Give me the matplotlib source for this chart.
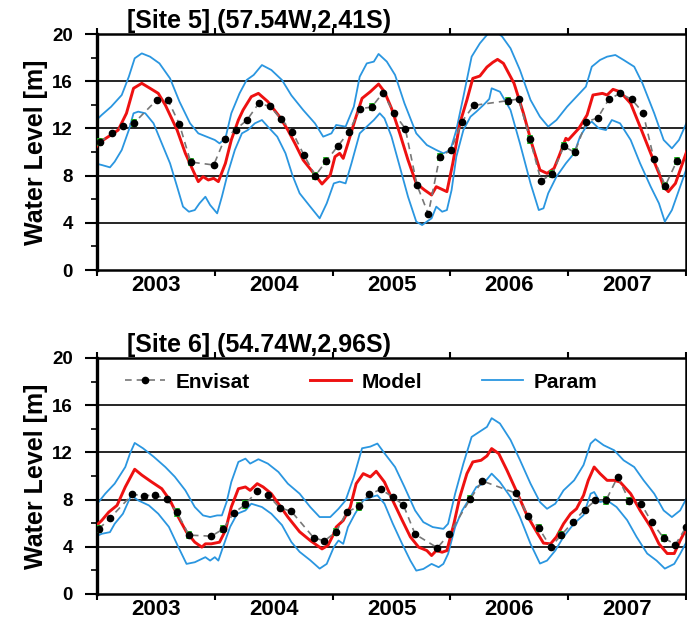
import numpy as np
from matplotlib import pyplot as plt

plt.rcParams['font.family'] = ['Liberation Sans', 'DejaVu Sans']
plt.rcParams['font.weight'] = 'bold'

# ---------------- Site 5 ----------------
s5_title = '[Site 5] (57.54W,2.41S)'

s5_env_t = [2003.025, 2003.125, 2003.223, 2003.317, 2003.509, 2003.603, 2003.699, 2003.795,
            2003.991, 2004.084, 2004.177, 2004.273, 2004.373, 2004.469, 2004.565, 2004.658,
            2004.755, 2004.853, 2004.947, 2005.043, 2005.139, 2005.233, 2005.332, 2005.428,
            2005.521, 2005.617, 2005.716, 2005.812, 2005.909, 2006.003, 2006.098, 2006.198,
            2006.486, 2006.580, 2006.676, 2006.769, 2006.865, 2006.962, 2007.055, 2007.154,
            2007.250, 2007.344, 2007.440, 2007.539, 2007.635, 2007.728, 2007.824, 2007.921]
s5_env_v = [10.82, 11.58, 12.18, 12.48, 14.43, 14.38, 12.37, 9.15,
            8.90, 11.13, 11.90, 12.71, 14.12, 13.87, 12.77, 11.72,
            9.77, 7.99, 9.26, 10.48, 11.72, 13.67, 13.81, 15.03,
            13.28, 11.98, 7.20, 4.75, 9.60, 10.14, 12.57, 13.95,
            14.35, 14.49, 11.07, 7.57, 8.14, 10.48, 9.97, 12.57,
            12.88, 14.46, 14.97, 14.46, 13.33, 9.38, 7.15, 9.21]
s5_err_idx = [0, 3, 7, 17, 18, 22, 28, 32, 34, 36, 37, 38, 46, 47]

s5_model_t = [2002.98, 2003.01, 2003.096, 2003.18, 2003.25, 2003.31, 2003.38, 2003.45, 2003.52,
              2003.58, 2003.68, 2003.75, 2003.82, 2003.86, 2003.90, 2003.945, 2003.99, 2004.03,
              2004.09, 2004.14, 2004.20, 2004.24, 2004.31, 2004.37, 2004.45, 2004.55, 2004.62,
              2004.68, 2004.75, 2004.84, 2004.91, 2004.98, 2005.02, 2005.06, 2005.09, 2005.13,
              2005.19, 2005.25, 2005.32, 2005.39, 2005.44, 2005.50, 2005.57, 2005.64, 2005.71,
              2005.78, 2005.84, 2005.88, 2005.94, 2005.97, 2006.02, 2006.08, 2006.14, 2006.19,
              2006.25, 2006.31, 2006.36, 2006.40, 2006.45, 2006.54, 2006.62, 2006.69, 2006.76,
              2006.82, 2006.88, 2006.92, 2006.98, 2007.00, 2007.09, 2007.16, 2007.21, 2007.29,
              2007.33, 2007.38, 2007.44, 2007.53, 2007.61, 2007.70, 2007.77, 2007.81, 2007.85,
              2007.91, 2007.97, 2008.01]
s5_model_v = [10.17, 10.73, 11.30, 11.86, 13.28, 15.40, 15.82, 15.40, 14.97,
              13.98, 11.86, 9.89, 8.33, 7.49, 7.91, 7.63, 7.77, 7.49,
              9.04, 11.02, 12.71, 13.56, 14.69, 14.97, 14.27, 12.99, 11.86,
              10.73, 9.32, 8.19, 7.29, 8.05, 9.60, 9.89, 9.46, 10.73,
              12.71, 14.55, 15.11, 15.76, 15.11, 13.70, 11.58, 9.32, 7.34,
              6.78, 6.36, 7.06, 6.78, 6.64, 9.04, 12.43, 14.41, 16.24,
              16.44, 17.20, 17.60, 17.85, 17.51, 15.82, 13.28, 10.73, 8.47,
              8.19, 8.62, 9.60, 11.16, 11.02, 12.00, 13.14, 14.83, 14.97,
              14.83, 15.31, 15.11, 14.12, 12.15, 9.89, 8.19, 7.06, 6.64,
              7.34, 9.04, 10.17]

s5_hi_t = [2002.98, 2003.04, 2003.12, 2003.21, 2003.27, 2003.32, 2003.38, 2003.45, 2003.53,
           2003.62, 2003.70, 2003.79, 2003.86, 2003.93, 2004.00, 2004.04, 2004.09, 2004.14,
           2004.21, 2004.27, 2004.33, 2004.40, 2004.48, 2004.57, 2004.65, 2004.75, 2004.85,
           2004.92, 2004.99, 2005.03, 2005.11, 2005.18, 2005.23, 2005.29, 2005.35, 2005.39,
           2005.46, 2005.53, 2005.61, 2005.71, 2005.80, 2005.88, 2005.94, 2006.00, 2006.05,
           2006.11, 2006.18, 2006.25, 2006.31, 2006.37, 2006.44, 2006.51, 2006.59, 2006.68,
           2006.76, 2006.83, 2006.90, 2006.99, 2007.07, 2007.15, 2007.20, 2007.27, 2007.33,
           2007.40, 2007.47, 2007.56, 2007.63, 2007.73, 2007.81, 2007.88, 2007.94, 2008.01]
s5_hi_v = [12.57, 13.14, 13.84, 14.83, 16.38, 17.94, 18.36, 18.08, 17.51,
           16.24, 14.27, 12.43, 11.58, 11.30, 11.02, 10.73, 11.16, 13.28,
           14.97, 16.10, 16.53, 17.37, 16.95, 16.10, 14.80, 13.56, 12.43,
           11.30, 11.58, 12.29, 12.15, 13.84, 16.38, 17.51, 17.66, 18.31,
           17.66, 16.53, 14.12, 11.58, 10.59, 10.17, 9.89, 10.17, 11.86,
           14.69, 18.08, 19.21, 19.92, 20.40, 19.77, 18.79, 16.95, 14.41,
           12.99, 12.15, 12.71, 13.84, 14.69, 15.54, 17.23, 17.80, 18.08,
           18.22, 17.80, 17.23, 15.82, 13.28, 11.02, 10.31, 11.02, 12.60]

s5_lo_t = [2002.98, 2003.04, 2003.11, 2003.15, 2003.21, 2003.27, 2003.31, 2003.35, 2003.41,
           2003.48, 2003.55, 2003.62, 2003.68, 2003.73, 2003.78, 2003.83, 2003.87, 2003.92,
           2003.96, 2004.02, 2004.06, 2004.11, 2004.17, 2004.23, 2004.28, 2004.34, 2004.40,
           2004.45, 2004.53, 2004.60, 2004.66, 2004.72, 2004.81, 2004.89, 2004.95, 2005.01,
           2005.06, 2005.11, 2005.16, 2005.23, 2005.29, 2005.35, 2005.40, 2005.44, 2005.50,
           2005.57, 2005.64, 2005.71, 2005.76, 2005.80, 2005.84, 2005.88, 2005.93, 2005.97,
           2006.01, 2006.05, 2006.11, 2006.17, 2006.22, 2006.28, 2006.33, 2006.35, 2006.42,
           2006.51, 2006.59, 2006.68, 2006.75, 2006.79, 2006.83, 2006.90, 2006.98, 2007.05,
           2007.10, 2007.16, 2007.20, 2007.26, 2007.32, 2007.37, 2007.44, 2007.53, 2007.61,
           2007.70, 2007.77, 2007.82, 2007.88, 2007.95, 2008.01]
s5_lo_v = [9.04, 8.90, 8.70, 9.18, 10.17, 11.86, 13.28, 13.42, 13.28,
           12.43, 10.73, 9.04, 7.06, 5.37, 4.94, 5.08, 5.65, 6.21,
           5.51, 4.80, 6.21, 8.19, 10.17, 11.58, 11.86, 12.43, 12.71,
           12.15, 11.30, 9.89, 8.00, 6.50, 5.37, 4.38, 5.65, 7.34,
           7.49, 7.34, 9.04, 11.58, 12.15, 12.71, 13.28, 12.85, 11.30,
           8.76, 6.21, 4.10, 3.81, 4.10, 4.38, 5.37, 4.94, 5.08,
           6.78, 9.60, 11.86, 12.99, 13.42, 13.98, 14.50, 15.40, 15.11,
           13.56, 10.73, 7.34, 5.08, 5.23, 6.50, 7.91, 9.04, 9.89,
           11.30, 12.29, 12.57, 12.00, 11.86, 12.71, 12.43, 11.02, 9.04,
           7.06, 5.65, 4.10, 5.08, 7.06, 8.76]

# ---------------- Site 6 ----------------
s6_title = '[Site 6] (54.74W,2.96S)'

s6_env_t = [2003.017, 2003.108, 2003.30, 2003.40, 2003.49, 2003.59, 2003.68, 2003.78,
            2003.97, 2004.07, 2004.16, 2004.26, 2004.36, 2004.45, 2004.55, 2004.65,
            2004.84, 2004.93, 2005.03, 2005.12, 2005.22, 2005.31, 2005.41, 2005.51,
            2005.60, 2005.70, 2005.89, 2005.99, 2006.17, 2006.27, 2006.56, 2006.66,
            2006.75, 2006.85, 2006.94, 2007.04, 2007.14, 2007.23, 2007.32, 2007.42,
            2007.52, 2007.62, 2007.71, 2007.81, 2007.91, 2008.00]
s6_env_v = [5.52, 6.40, 8.44, 8.33, 8.39, 8.02, 6.91, 4.99,
            4.90, 5.50, 6.86, 7.59, 8.75, 8.39, 7.31, 7.00,
            4.76, 4.50, 5.27, 6.94, 7.42, 8.44, 8.87, 8.22,
            7.56, 5.07, 3.91, 5.10, 8.07, 9.58, 8.53, 6.60,
            5.61, 3.97, 4.99, 6.09, 7.14, 7.93, 7.93, 9.92,
            7.88, 7.62, 6.06, 4.76, 4.19, 5.67]
s6_err_idx = [0, 6, 7, 9, 11, 18, 20, 28, 32, 34, 38, 40, 43]

s6_model_t = [2002.98, 2003.04, 2003.10, 2003.17, 2003.24, 2003.32, 2003.38, 2003.46, 2003.55,
              2003.62, 2003.69, 2003.76, 2003.83, 2003.89, 2003.92, 2003.97, 2004.04, 2004.09,
              2004.14, 2004.20, 2004.26, 2004.30, 2004.36, 2004.41, 2004.48, 2004.55, 2004.62,
              2004.72, 2004.81, 2004.91, 2004.96, 2005.01, 2005.03, 2005.09, 2005.15, 2005.20,
              2005.26, 2005.32, 2005.37, 2005.44, 2005.51, 2005.59, 2005.66, 2005.73, 2005.80,
              2005.84, 2005.88, 2005.93, 2005.97, 2006.03, 2006.08, 2006.14, 2006.19, 2006.26,
              2006.31, 2006.35, 2006.41, 2006.48, 2006.57, 2006.65, 2006.74, 2006.79, 2006.85,
              2006.90, 2006.96, 2007.02, 2007.07, 2007.13, 2007.17, 2007.22, 2007.27, 2007.33,
              2007.39, 2007.44, 2007.53, 2007.61, 2007.70, 2007.77, 2007.84, 2007.90, 2007.95,
              2008.01]
s6_model_v = [5.67, 6.23, 6.94, 7.51, 9.07, 10.57, 10.08, 9.52, 8.92,
              7.93, 6.52, 5.24, 4.39, 3.97, 4.25, 4.25, 4.39, 5.38,
              7.37, 8.92, 9.07, 8.78, 9.35, 9.07, 8.50, 7.51, 6.52,
              5.27, 4.53, 3.82, 4.11, 5.10, 5.67, 6.23, 7.37, 9.35,
              10.20, 9.92, 10.40, 9.49, 7.93, 6.26, 4.84, 3.97, 3.68,
              3.26, 3.68, 3.54, 3.68, 5.98, 8.22, 10.20, 11.19, 11.33,
              11.70, 12.32, 11.90, 10.48, 8.50, 6.66, 5.13, 4.31, 4.25,
              4.84, 5.95, 6.80, 7.22, 8.36, 9.63, 10.76, 10.20, 9.63,
              9.63, 9.49, 8.50, 7.08, 5.67, 4.25, 3.43, 3.43, 4.53,
              5.67]

s6_hi_t = [2002.98, 2003.07, 2003.15, 2003.24, 2003.28, 2003.32, 2003.39, 2003.48, 2003.58,
           2003.66, 2003.75, 2003.83, 2003.90, 2003.96, 2004.02, 2004.06, 2004.10, 2004.14,
           2004.20, 2004.26, 2004.30, 2004.37, 2004.45, 2004.54, 2004.62, 2004.72, 2004.81,
           2004.89, 2004.98, 2005.05, 2005.11, 2005.18, 2005.25, 2005.32, 2005.38, 2005.44,
           2005.53, 2005.61, 2005.70, 2005.77, 2005.85, 2005.94, 2005.98, 2006.04, 2006.11,
           2006.18, 2006.25, 2006.31, 2006.35, 2006.42, 2006.51, 2006.59, 2006.68, 2006.76,
           2006.82, 2006.89, 2006.96, 2007.05, 2007.13, 2007.19, 2007.23, 2007.30, 2007.39,
           2007.47, 2007.56, 2007.64, 2007.73, 2007.81, 2007.88, 2007.95, 2008.01]
s6_hi_v = [7.37, 8.50, 9.35, 10.76, 11.90, 12.80, 12.35, 11.64, 10.76,
           9.94, 8.78, 7.37, 6.66, 6.52, 6.66, 6.66, 7.79, 9.49,
           11.19, 11.47, 11.05, 11.42, 11.05, 10.34, 9.35, 8.50, 7.37,
           6.52, 6.52, 7.22, 7.93, 9.92, 12.35, 12.49, 12.75, 11.93,
           10.76, 9.07, 7.08, 6.09, 5.67, 5.52, 5.95, 8.50, 11.05,
           13.31, 13.77, 14.16, 14.90, 14.45, 13.06, 11.36, 9.35, 7.79,
           7.22, 7.65, 8.78, 9.63, 10.93, 12.75, 13.12, 12.61, 12.18,
           11.33, 10.76, 9.63, 8.50, 7.08, 6.52, 7.08, 8.22]

s6_lo_t = [2002.98, 2003.04, 2003.11, 2003.15, 2003.22, 2003.29, 2003.35, 2003.44, 2003.52,
           2003.61, 2003.69, 2003.76, 2003.83, 2003.92, 2003.96, 2004.00, 2004.03, 2004.07,
           2004.13, 2004.19, 2004.26, 2004.31, 2004.40, 2004.48, 2004.57, 2004.65, 2004.72,
           2004.81, 2004.89, 2004.95, 2005.01, 2005.05, 2005.09, 2005.13, 2005.19, 2005.26,
           2005.33, 2005.38, 2005.44, 2005.51, 2005.59, 2005.66, 2005.71, 2005.77, 2005.84,
           2005.90, 2005.94, 2005.98, 2006.04, 2006.10, 2006.17, 2006.22, 2006.28, 2006.35,
           2006.42, 2006.51, 2006.59, 2006.68, 2006.76, 2006.82, 2006.89, 2006.96, 2007.05,
           2007.13, 2007.19, 2007.22, 2007.27, 2007.33, 2007.41, 2007.50, 2007.58, 2007.67,
           2007.75, 2007.82, 2007.90, 2007.95, 2008.01]
s6_lo_v = [4.82, 5.10, 5.24, 5.95, 6.80, 8.36, 7.93, 7.51, 6.80,
           5.69, 3.99, 2.55, 2.69, 3.12, 2.83, 3.12, 2.83, 3.99,
           5.69, 6.80, 7.08, 7.65, 7.37, 6.80, 5.84, 4.40, 3.57,
           2.86, 2.15, 2.55, 3.97, 4.53, 4.25, 5.67, 6.80, 7.93,
           8.22, 8.36, 7.65, 5.98, 4.25, 2.83, 1.98, 2.12, 2.55,
           2.27, 2.55, 3.40, 5.67, 7.08, 8.22, 9.07, 9.35, 10.20,
           9.49, 8.22, 6.52, 4.25, 2.58, 2.83, 3.68, 4.84, 5.98,
           6.69, 8.50, 8.64, 7.79, 7.93, 7.37, 6.26, 4.84, 3.43,
           2.83, 2.15, 2.55, 3.40, 4.53]

years = [2003, 2004, 2005, 2006, 2007, 2008]
year_labels = ['2003', '2004', '2005', '2006', '2007']
y_ticks = [0, 4, 8, 12, 16, 20]

blue = '#2a96e0'
red = '#ee1111'


def draw_site(ax, title, env_t, env_v, err_idx, mt, mv, ht, hv, lt, lv):
    for yv in [4, 8, 12, 16]:
        ax.axhline(yv, color='k', lw=1.2, zorder=1)
    ax.plot(ht, hv, color=blue, lw=1.3, zorder=2, label='Param')
    ax.plot(lt, lv, color=blue, lw=1.3, zorder=2)
    ax.plot(mt, mv, color=red, lw=2.1, zorder=3, label='Model')
    et = np.array(env_t)
    ev = np.array(env_v)
    ax.errorbar(et[err_idx], ev[err_idx], yerr=0.35, fmt='none', ecolor='#1eb41e',
                elinewidth=4, capsize=0, zorder=4)
    ax.plot(et, ev, color='#777777', lw=1.2, ls=(0, (4, 3)), marker='o', ms=4.5,
            mfc='k', mec='k', zorder=5, label='Envisat')

    ax.set_xlim(2003, 2008)
    ax.set_ylim(0, 20)
    ax.set_xticks(years)
    ax.set_xticklabels([])
    ax.set_xticks([y + 0.5 for y in years[:-1]], minor=True)
    ax.set_xticklabels(year_labels, minor=True, fontsize=16, fontweight='bold')
    ax.set_yticks(y_ticks)
    ax.set_yticklabels([str(v) for v in y_ticks], fontsize=13.5, fontweight='bold')
    ax.set_yticks([2, 6, 10, 14, 18], minor=True)
    ax.tick_params(axis='x', which='major', direction='out', length=4.5, width=1.5,
                   top=True, bottom=True)
    ax.tick_params(axis='x', which='minor', length=0, pad=3.5)
    ax.tick_params(axis='y', which='major', direction='out', length=8.5, width=1.5, pad=9)
    ax.tick_params(axis='y', which='minor', direction='out', length=4.5, width=1.2)
    for side in ['top', 'right', 'bottom']:
        ax.spines[side].set_linewidth(1.8)
    ax.spines['left'].set_linewidth(2.4)
    ax.set_ylabel('Water Level [m]', fontsize=18, fontweight='bold')
    ax.yaxis.set_label_coords(-0.083, 0.5)
    ax.text(0.051, 1.025, title, transform=ax.transAxes, fontsize=18,
            fontweight='bold', va='baseline', ha='left')


if __name__ == '__main__':
    fig = plt.figure(figsize=(6.87, 6.24), dpi=100)
    ax1 = fig.add_axes([0.1412, 0.5673, 0.8574, 0.3782])
    ax2 = fig.add_axes([0.1412, 0.0481, 0.8574, 0.3782])

    draw_site(ax1, s5_title, s5_env_t, s5_env_v, s5_err_idx,
              s5_model_t, s5_model_v, s5_hi_t, s5_hi_v, s5_lo_t, s5_lo_v)
    draw_site(ax2, s6_title, s6_env_t, s6_env_v, s6_err_idx,
              s6_model_t, s6_model_v, s6_hi_t, s6_hi_v, s6_lo_t, s6_lo_v)

    h, l = ax2.get_legend_handles_labels()
    order = [l.index('Envisat'), l.index('Model'), l.index('Param')]
    ax2.legend([h[i] for i in order], [l[i] for i in order], ncol=3, frameon=False,
               loc='center left', bbox_to_anchor=(0.047, 0.898), borderpad=0,
               borderaxespad=0, handlelength=1.95, handletextpad=0.5,
               columnspacing=2.9, prop={'size': 15, 'weight': 'bold'})

    fig.savefig('out.png', dpi=100)
